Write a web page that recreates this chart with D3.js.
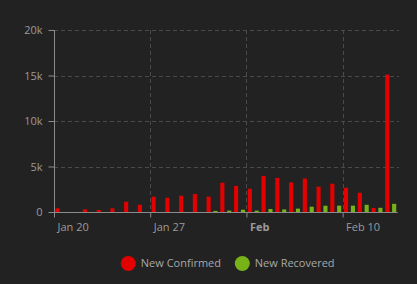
<!DOCTYPE html>
<html>
<head>
<meta charset="utf-8">
<script src="https://cdn.jsdelivr.net/npm/d3@7"></script>
<style>
html,body{margin:0;padding:0;background:#222222;}
svg{display:block;}
text{font-family:"Open Sans","Noto Sans",sans-serif;}
</style>
</head>
<body>
<script>
// ---- data ----
const dates = ["2020-01-20","2020-01-21","2020-01-22","2020-01-23","2020-01-24","2020-01-25","2020-01-26",
  "2020-01-27","2020-01-28","2020-01-29","2020-01-30","2020-01-31","2020-02-01","2020-02-02",
  "2020-02-03","2020-02-04","2020-02-05","2020-02-06","2020-02-07","2020-02-08","2020-02-09",
  "2020-02-10","2020-02-11","2020-02-12","2020-02-13"];
const newConfirmed = [400,0,290,220,400,1130,800,1680,1570,1790,1980,1690,3220,2870,2560,3970,3750,3260,3680,2780,3110,2670,2120,450,15100];
const newRecovered = [0,0,0,0,0,0,0,0,0,0,0,120,150,250,150,330,280,370,580,690,700,700,790,460,900];
const yTicks = [0,5000,10000,15000,20000];
const yTickLabels = ["0","5k","10k","15k","20k"];
const xTicks = ["2020-01-20","2020-01-27","2020-02-03","2020-02-10"];
const xTickLabels = ["Jan 20","Jan 27","Feb","Feb 10"];
const seriesNames = ["New Confirmed","New Recovered"];
const seriesColors = ["#e30000","#78b219"];

const W = 417, H = 284;
const m = {left:54, right:19.4, top:30, bottom:72};
const parse = d3.utcParse("%Y-%m-%d");
const dayMs = 86400000;

const svg = d3.select("body").append("svg").attr("width",W).attr("height",H);

const x = d3.scaleUtc()
  .domain([parse(dates[0]), new Date(+parse(dates[dates.length-1]) + dayMs)])
  .range([m.left, W - m.right]);
const y = d3.scaleLinear().domain([0,20000]).range([H - m.bottom, m.top]);

const dayW = x(new Date(+parse(dates[0]) + dayMs)) - x(parse(dates[0]));

// gridlines
const grid = svg.append("g");
grid.selectAll("line.h").data(yTicks.filter(d=>d>0)).join("line")
  .attr("x1", m.left).attr("x2", W - m.right + 1.5)
  .attr("y1", d=>Math.round(y(d))+0.5).attr("y2", d=>Math.round(y(d))+0.5)
  .attr("stroke","#4a4a4a").attr("stroke-dasharray","4,3");
grid.selectAll("line.v").data(xTicks.slice(1)).join("line")
  .attr("x1", d=>Math.round(x(parse(d)))+0.5).attr("x2", d=>Math.round(x(parse(d)))+0.5)
  .attr("y1", m.top).attr("y2", y(0))
  .attr("stroke","#4a4a4a").attr("stroke-dasharray","4,3");

// bars
const data = dates.map((d,i)=>({date:parse(d), c:newConfirmed[i], r:newRecovered[i]}));
const series = [["c",0.1,0.4],["r",0.6,0.9]];
series.forEach(([key,s,e],si)=>{
  svg.append("g").selectAll("rect").data(data.filter(d=>d[key]>0)).join("rect")
    .attr("x", d=>x(d.date) + dayW*s)
    .attr("width", dayW*(e-s))
    .attr("y", d=>y(d[key]))
    .attr("height", d=>y(0)-y(d[key]))
    .attr("fill", seriesColors[si]);
});

// y axis
const yAxis = d3.axisLeft(y).tickValues(yTicks).tickFormat((d,i)=>yTickLabels[i]).tickSize(6).tickPadding(6);
const gy = svg.append("g").attr("transform",`translate(${m.left+0.5},0)`).call(yAxis);
gy.select(".domain").attr("stroke","#8a8a8a").attr("d",`M0,${m.top}V${y(0)}`);
gy.selectAll(".tick line").attr("stroke","#8a8a8a");
gy.selectAll(".tick text").attr("fill","#9a9a9a").attr("font-size","11px");

// x axis
const xAxis = d3.axisBottom(x).tickValues(xTicks.map(parse)).tickFormat((d,i)=>xTickLabels[i]).tickSize(5).tickPadding(6);
const gx = svg.append("g").attr("transform",`translate(0,${Math.round(y(0))+0.5})`).call(xAxis);
gx.select(".domain").attr("stroke","#8a8a8a").attr("d",`M${m.left},0H${W-m.right}`);
gx.selectAll(".tick line").attr("stroke","#8a8a8a");
gx.selectAll(".tick text").attr("fill","#9a9a9a").attr("font-size","11px")
  .attr("text-anchor","start").attr("x",3)
  .attr("font-weight",(d,i)=>xTickLabels[i]==="Feb"?"bold":"normal");

// legend
const legend = svg.append("g");
const legX = [128.3, 242.3];
seriesNames.forEach((n,i)=>{
  legend.append("circle").attr("cx",legX[i]).attr("cy",263.5).attr("r",7.5).attr("fill",seriesColors[i]);
  legend.append("text").attr("x",legX[i]+12.5).attr("y",263.5).attr("dy","0.35em")
    .attr("fill","#a8a8a8").attr("font-size","11px").text(n);
});
</script>
</body>
</html>
